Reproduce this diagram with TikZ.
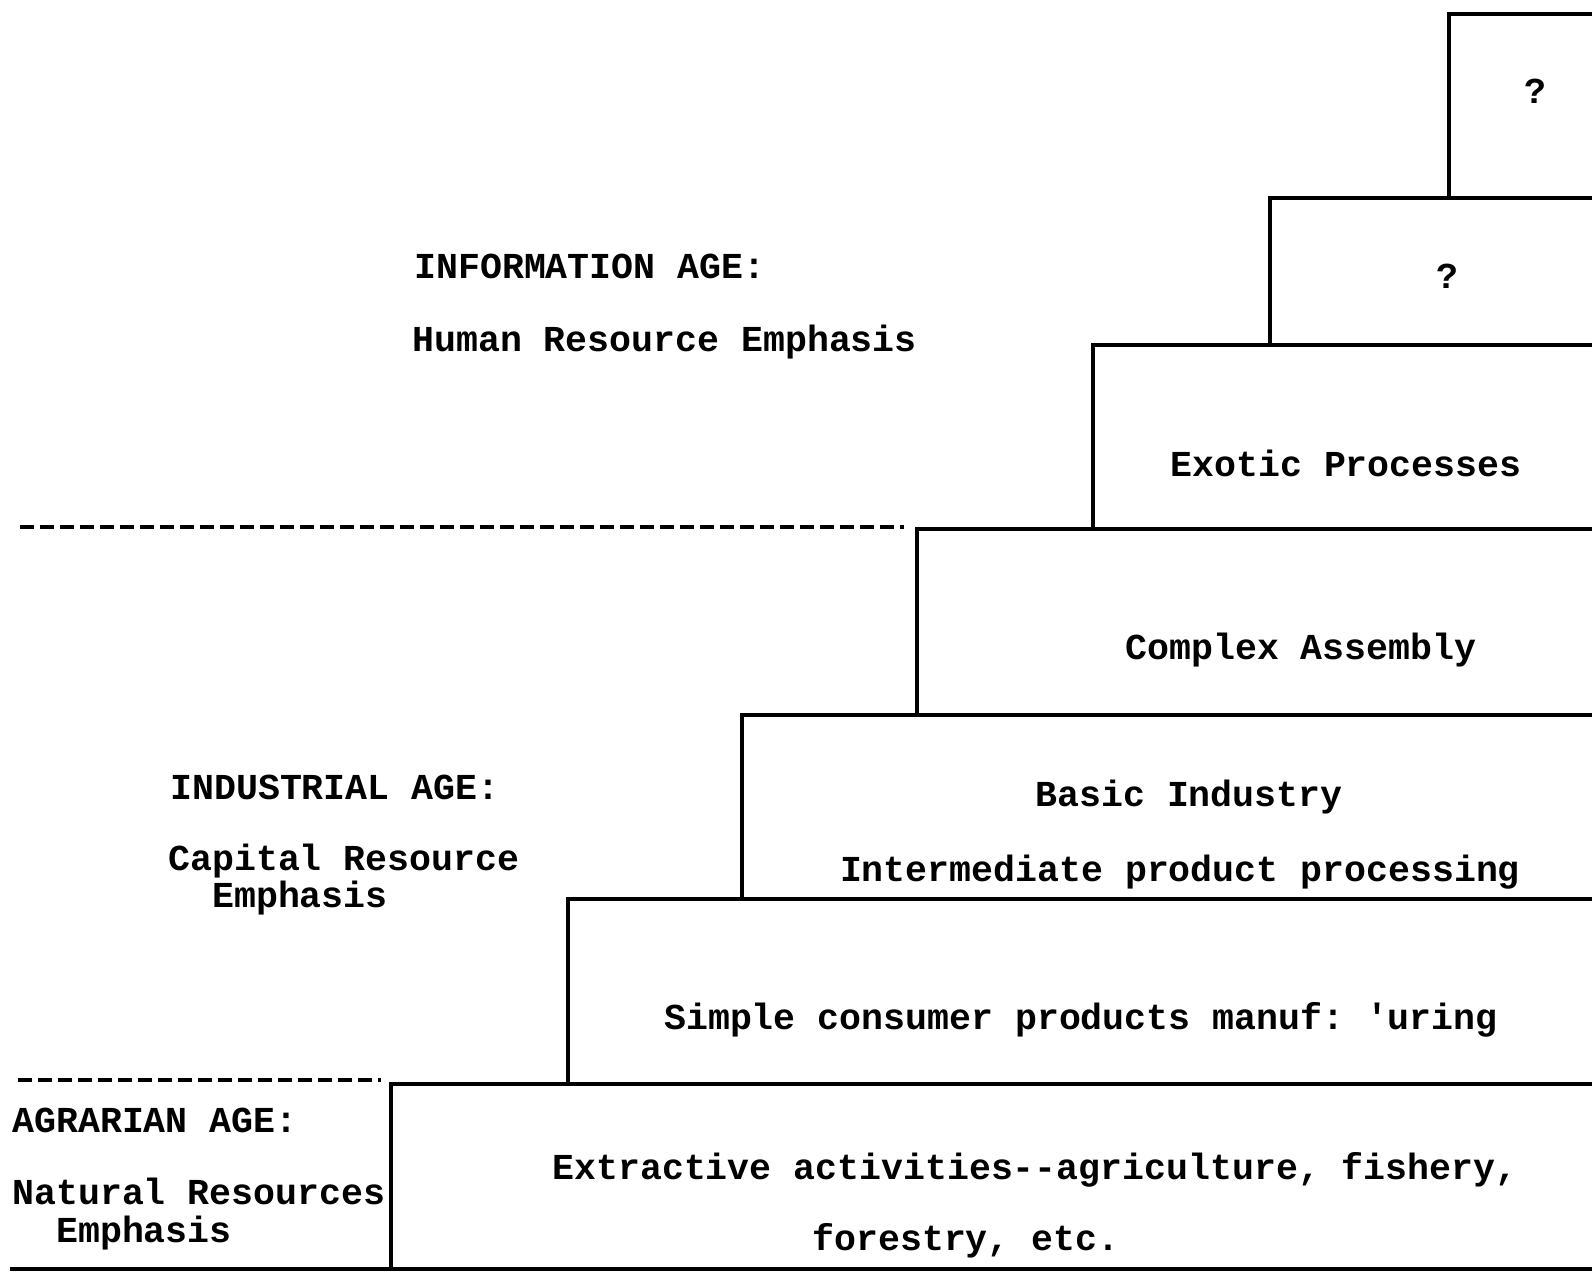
\documentclass[tikz,border=0pt]{standalone}
\usepackage{fontspec}
\setmonofont{Liberation Mono}
\usetikzlibrary{positioning}
\tikzstyle{normalLine}=[line width=2pt]
\tikzstyle{Step}=[normalLine,line join=miter]
\tikzstyle{Divider}=[line width=2.4pt,dash pattern=on 0.28cm off 0.12cm]
\tikzstyle{Label}=[inner sep=0pt,font=\ttfamily\bfseries\fontsize{20.8pt}{21.5pt}\selectfont]
\tikzstyle{Age}=[Label,anchor=west,align=left]

\begin{document}
\begin{tikzpicture}

  \clip (0,0) rectangle (31.84,25.64);
  \fill[white] (0,0) rectangle (31.84,25.64);

  % Steps
  % -----
  \draw[Step] (28.98,21.68) |- (32,25.36);
  \draw[Step] (25.40,18.74) |- (32,21.68);
  \draw[Step] (21.86,15.06) |- (32,18.74);
  \draw[Step] (18.34,11.34) |- (32,15.06);
  \draw[Step] (14.84,7.66) |- (32,11.34);
  \draw[Step] (11.36,3.96) |- (32,7.66);
  \draw[Step] (7.82,0.26) |- (32,3.96);

  % Ground
  \draw[Step] (0.20,0.26) -- (32,0.26);

  % Dividers
  \draw[Divider] (0.40,15.10) -- (18.08,15.10);
  \draw[Divider] (0.36,4.04) -- (7.62,4.04);

  % Step labels
  \node[Label] (Q1) at (30.70,23.82) {?};
  \node[Label] (Q2) at (28.94,20.12) {?};
  \node[Label] (Exotic) at (26.92,16.38) {Exotic Processes};
  \node[Label] (Complex) at (26.02,12.64) {Complex Assembly};
  \node[Label] (Basic) at (23.78,9.70) {Basic Industry};
  \node[Label] (Inter) at (23.60,8.20) {Intermediate product processing};
  \node[Label] (Simple) at (21.62,5.24) {Simple consumer products manuf: 'uring};
  \node[Label] (Extract) at (20.70,2.24) {Extractive activities-{}-agriculture, fishery,};
  \node[Label] (Forest) at (19.32,0.82) {forestry, etc.};

  % Ages
  \node[Age] (InfoAge) at (8.28,20.32) {INFORMATION AGE:};
  \node[Age] (InfoRes) at (8.24,18.80) {Human Resource Emphasis};
  \node[Age] (IndAge) at (3.40,9.90) {INDUSTRIAL AGE:};
  \node[Age] (IndRes) at (3.36,8.05) {Capital Resource\\\hphantom{Ca}Emphasis};
  \node[Age] (AgrAge) at (0.24,3.24) {AGRARIAN AGE:};
  \node[Age] (AgrRes) at (0.24,1.36) {Natural Resources\\\hphantom{Na}Emphasis};

\end{tikzpicture}
\end{document}
